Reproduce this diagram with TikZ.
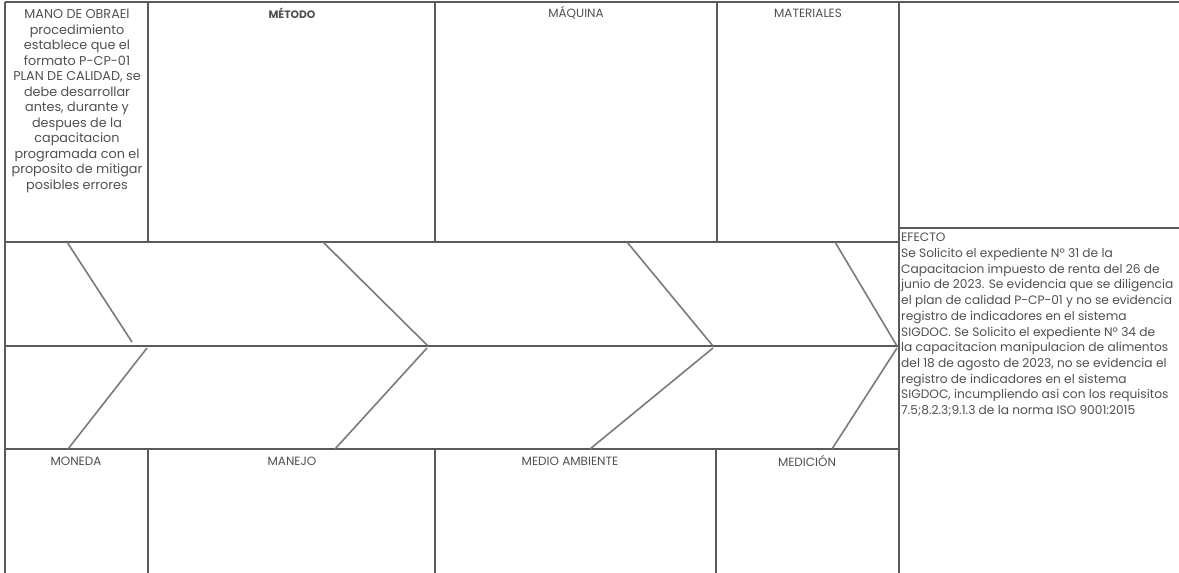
\documentclass[tikz,border=0pt]{standalone}
\usepackage{fontspec}
\setmainfont{Poppins}
\definecolor{ln}{HTML}{5A5A5A}
\definecolor{bone}{HTML}{7A7A7A}
\definecolor{tx}{HTML}{505050}
\tikzset{
  frame/.style={draw=ln, line width=1.1pt},
  bonel/.style={draw=bone, line width=1.6pt},
  lbl/.style={inner sep=0pt, text=tx, font=\fontsize{12}{15.5}\selectfont},
  para/.style={inner sep=0pt, text=tx, font=\fontsize{12.8}{15.5}\selectfont},
  effpara/.style={inner sep=0pt, text=tx, font=\fontsize{12.2}{15.7}\selectfont},
}
\begin{document}
\begin{tikzpicture}[x=1pt,y=-1pt]
\useasboundingbox (0,0) rectangle (1179,573);
\clip (0,0) rectangle (1179,573);
% frame
\draw[frame] (5,2) -- (1179,2);
\draw[frame] (5,2) -- (5,573);
\draw[frame] (148,2) -- (148,242);
\draw[frame] (435,2) -- (435,242);
\draw[frame] (717,2) -- (717,242);
\draw[frame] (899,2) -- (899,573);
\draw[frame] (5,242) -- (899,242);
\draw[frame] (5,346) -- (899,346);
\draw[frame] (5,449) -- (899,449);
\draw[frame] (148,449) -- (148,573);
\draw[frame] (435,449) -- (435,573);
\draw[frame] (716,449) -- (716,573);
\draw[frame] (899,228) -- (1179,228);
% bones
\coordinate (u1a) at (67,242); \coordinate (u1b) at (132,342);
\coordinate (u2a) at (323,242); \coordinate (u2b) at (428,346);
\coordinate (u3a) at (627,242); \coordinate (u3b) at (713,346);
\coordinate (u4a) at (835,242); \coordinate (u4b) at (897,346);
\coordinate (l1a) at (147,348); \coordinate (l1b) at (68,449);
\coordinate (l2a) at (427,348); \coordinate (l2b) at (335,449);
\coordinate (l3a) at (713,348); \coordinate (l3b) at (590,449);
\coordinate (l4a) at (897,348); \coordinate (l4b) at (832,449);
\draw[bonel] (u1a) -- (u1b);
\draw[bonel] (u2a) -- (u2b);
\draw[bonel] (u3a) -- (u3b);
\draw[bonel] (u4a) -- (u4b);
\draw[bonel] (l1a) -- (l1b);
\draw[bonel] (l2a) -- (l2b);
\draw[bonel] (l3a) -- (l3b);
\draw[bonel] (l4a) -- (l4b);
% texts
\node[para, anchor=north, align=center] (mano) at (77,9) {MANO DE OBRAEl\\procedimiento\\establece que el\\formato P-CP-01\\PLAN DE CALIDAD, se\\debe desarrollar\\antes, durante y\\despues de la\\capacitacion\\programada con el\\proposito de mitigar\\posibles errores};
\node[lbl, font=\fontsize{10.8}{15.5}\selectfont\bfseries] (metodo) at (292,13) {MÉTODO};
\node[lbl] (maquina) at (576,13) {MÁQUINA};
\node[lbl] (materiales) at (808,13) {MATERIALES};
\node[lbl] (moneda) at (76,461) {MONEDA};
\node[lbl] (manejo) at (292,461) {MANEJO};
\node[lbl] (medio) at (570,461) {MEDIO AMBIENTE};
\node[lbl] (medicion) at (807,461) {MEDICIÓN};
\node[effpara, anchor=north west, align=left] (efecto) at (901,233) {EFECTO\\Se Solicito el expediente Nº 31 de la\\Capacitacion impuesto de renta del 26 de\\junio de 2023. Se evidencia que se diligencia\\el plan de calidad P-CP-01 y no se evidencia\\registro de indicadores en el sistema\\SIGDOC. Se Solicito el expediente Nº 34 de\\la capacitacion manipulacion de alimentos\\del 18 de agosto de 2023, no se evidencia el\\registro de indicadores en el sistema\\SIGDOC, incumpliendo asi con los requisitos\\7.5;8.2.3;9.1.3 de la norma ISO 9001:2015};
\end{tikzpicture}
\end{document}
